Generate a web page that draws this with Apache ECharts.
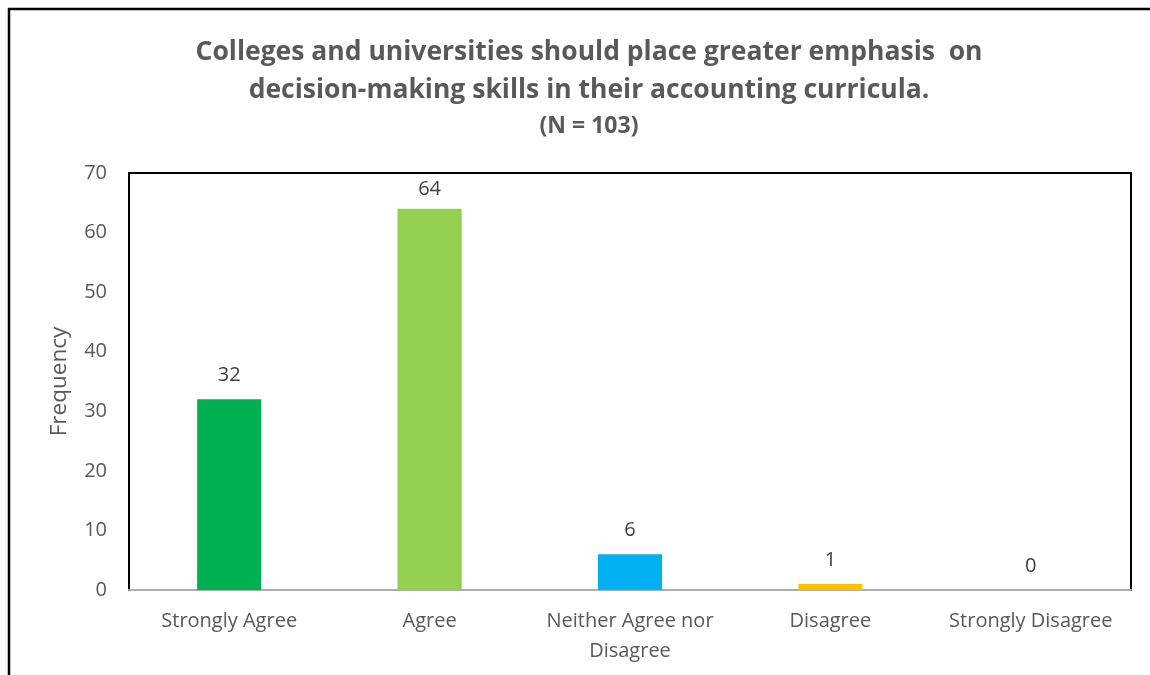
<!DOCTYPE html>
<html>
<head>
<meta charset="utf-8">
<script src="https://cdn.jsdelivr.net/npm/echarts@6/dist/echarts.min.js"></script>
<style>
  html, body { margin: 0; padding: 0; background: #fff; }
  #chart { width: 1150px; height: 675px; }
</style>
</head>
<body>
<div id="chart"></div>
<script>
// Survey responses (N = 103)
const categories = ['Strongly Agree', 'Agree', 'Neither Agree nor\nDisagree', 'Disagree', 'Strongly Disagree'];
const frequencies = [32, 64, 6, 1, 0];
const barColors = ['#00B050', '#92D050', '#00B0F0', '#FFC000', '#FF0000'];
const yTicks = { min: 0, max: 70, interval: 10 };

const FONT = '"Open Sans", Lato, sans-serif';

const chart = echarts.init(document.getElementById('chart'), null, { renderer: 'canvas' });

// Labels near the top frame sit a little closer to their bar
const labelDistance = (v) => (v > 60 ? 9 : 14);

chart.setOption({
  backgroundColor: '#ffffff',
  animation: false,
  title: {
    text: 'Colleges and universities should place greater emphasis  on\ndecision-making skills in their accounting curricula.',
    subtext: '(N = 103)',
    left: 584,
    top: 28,
    textAlign: 'center',
    itemGap: 6,
    textStyle: {
      fontFamily: FONT,
      fontSize: 26.5,
      fontWeight: 'bold',
      color: '#595959',
      lineHeight: 38
    },
    subtextStyle: {
      fontFamily: FONT,
      fontSize: 23,
      fontWeight: 'bold',
      color: '#595959'
    }
  },
  graphic: [{
    type: 'rect',
    shape: { x: 9, y: 9, width: 1200, height: 700 },
    style: { fill: 'none', stroke: '#000', lineWidth: 2.5 },
    silent: true
  }],
  grid: {
    left: 129,
    top: 173,
    right: 19,
    bottom: 85,
    show: true,
    borderColor: '#000',
    borderWidth: 2,
    backgroundColor: 'transparent'
  },
  xAxis: {
    type: 'category',
    data: categories,
    axisLine: { show: true, lineStyle: { color: '#ADADAD', width: 2 } },
    axisTick: { show: false },
    axisLabel: {
      interval: 0,
      margin: 16,
      fontFamily: FONT,
      fontSize: 20,
      color: '#595959',
      lineHeight: 30
    }
  },
  yAxis: {
    type: 'value',
    min: yTicks.min,
    max: yTicks.max,
    interval: yTicks.interval,
    name: 'Frequency',
    nameLocation: 'middle',
    nameGap: 58,
    nameRotate: 90,
    nameTextStyle: { fontFamily: FONT, fontSize: 22.5, color: '#595959' },
    axisLine: { show: false },
    axisTick: { show: false },
    splitLine: { show: false },
    axisLabel: {
      margin: 22,
      fontFamily: FONT,
      fontSize: 20,
      color: '#595959'
    }
  },
  series: [{
    type: 'bar',
    data: frequencies.map((v, i) => ({
      value: v,
      itemStyle: { color: barColors[i] },
      label: { distance: labelDistance(v) }
    })),
    barWidth: '32%',
    label: {
      show: true,
      position: 'top',
      fontFamily: FONT,
      fontSize: 20,
      color: '#404040'
    }
  }]
});
</script>
</body>
</html>
